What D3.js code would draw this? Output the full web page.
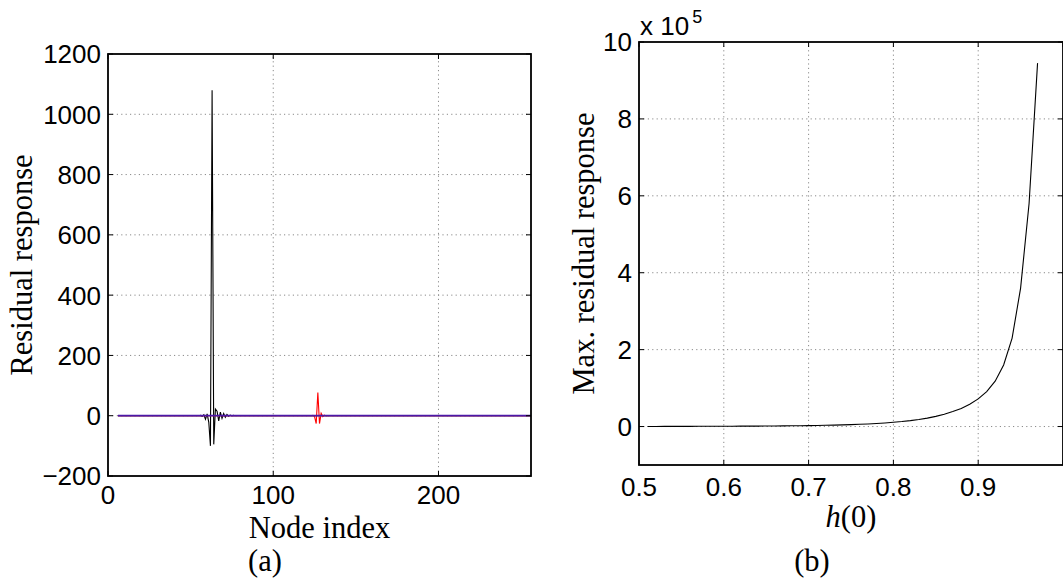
<!DOCTYPE html>
<html>
<head>
<meta charset="utf-8">
<script src="https://cdn.jsdelivr.net/npm/d3@7/dist/d3.min.js"></script>
<style>
  html, body { margin: 0; padding: 0; background: #fff; }
  svg { display: block; }
</style>
</head>
<body>
<svg id="chart" width="1063" height="583"></svg>
<script>
// ---------------- Data (a) ----------------
const nodeStart = 6;
const nodeEnd = 256;
// black series: nonzero samples (node index, value)
const blackNodes  = [56, 57, 58, 59, 60, 61, 62, 63, 64, 65, 66, 67, 68, 69, 70, 71, 72, 73, 74, 75, 76];
const blackValues = [1, -2, 3, -12, 6, -22, -100, 1080, -95, 22, 15, -17, 12, -9, 7, -5, 4, -2, 2, -1, 1];
// red series: nonzero samples
const redNodes  = [124, 125, 126, 127, 128, 129, 130, 131, 132];
const redValues = [1, -3, -26, 77, -26, 8, -3, 2, -1];
// purple series: flat at zero across all nodes
const purpleNodes = [];
const purpleValues = [];

const xTicksA = [0, 100, 200];
const yTicksA = [-200, 0, 200, 400, 600, 800, 1000, 1200];
const yTickLabelsA = ["\u2212200", "0", "200", "400", "600", "800", "1000", "1200"];

// ---------------- Data (b) ----------------
const hValues = [0.51, 0.52, 0.53, 0.54, 0.55, 0.56, 0.57, 0.58, 0.59, 0.60,
                 0.61, 0.62, 0.63, 0.64, 0.65, 0.66, 0.67, 0.68, 0.69, 0.70,
                 0.71, 0.72, 0.73, 0.74, 0.75, 0.76, 0.77, 0.78, 0.79, 0.80,
                 0.81, 0.82, 0.83, 0.84, 0.85, 0.86, 0.87, 0.88, 0.89, 0.90,
                 0.91, 0.92, 0.93, 0.94, 0.95, 0.96, 0.97];
// max residual response in units of 1e5
const maxResidual = [0.003, 0.003, 0.004, 0.004, 0.005, 0.005, 0.006, 0.006, 0.007, 0.008,
                     0.009, 0.010, 0.011, 0.012, 0.013, 0.015, 0.017, 0.019, 0.022, 0.025,
                     0.029, 0.033, 0.038, 0.044, 0.050, 0.058, 0.067, 0.078, 0.092, 0.110,
                     0.130, 0.155, 0.185, 0.220, 0.265, 0.320, 0.390, 0.470, 0.580, 0.720,
                     0.910, 1.180, 1.600, 2.300, 3.600, 5.800, 9.450];
const xTicksB = [0.5, 0.6, 0.7, 0.8, 0.9, 1.0];
const xTickLabelsB = ["0.5", "0.6", "0.7", "0.8", "0.9", ""];
const yTicksB = [0, 2, 4, 6, 8, 10];
const yTickLabelsB = ["0", "2", "4", "6", "8", "10"];

// ---------------- Build series ----------------
function buildSeries(nodes, values) {
  const m = new Map(nodes.map((n, i) => [n, values[i]]));
  const out = [];
  for (let n = nodeStart; n <= nodeEnd; n++) out.push({x: n, y: m.has(n) ? m.get(n) : 0});
  return out;
}
const blackSeries = buildSeries(blackNodes, blackValues);
const redSeries = buildSeries(redNodes, redValues);
const purpleSeries = buildSeries(purpleNodes, purpleValues);
const seriesB = hValues.map((h, i) => ({x: h, y: maxResidual[i]}));

// ---------------- Drawing ----------------
const svg = d3.select("#chart");
svg.append("rect").attr("width", 1063).attr("height", 583).attr("fill", "#fff");

const SANS = "'Liberation Sans', Arial, Helvetica, sans-serif";
const SERIF = "'Liberation Serif', 'Times New Roman', serif";
const TICKFS = 26;
const LABELFS = 30.5;

function drawGrid(g, xs, ys, xt, yt) {
  const [x0, x1] = xs.range();
  const [y0, y1] = ys.range();
  const grid = g.append("g").attr("stroke", "#8a8a8a").attr("stroke-width", 1)
    .attr("stroke-dasharray", "1.2,3.2");
  xt.forEach(t => {
    const px = xs(t);
    if (Math.abs(px - x0) > 1 && Math.abs(px - x1) > 1)
      grid.append("line").attr("x1", px).attr("x2", px).attr("y1", y0).attr("y2", y1);
  });
  yt.forEach(t => {
    const py = ys(t);
    if (Math.abs(py - y0) > 1 && Math.abs(py - y1) > 1)
      grid.append("line").attr("x1", x0).attr("x2", x1).attr("y1", py).attr("y2", py);
  });
}

function drawFrame(g, xs, ys, xt, yt) {
  const [x0, x1] = xs.range();
  const [y0, y1] = ys.range();
  const tk = g.append("g").attr("stroke", "#000").attr("stroke-width", 1);
  const L = 5;
  xt.forEach(t => {
    const px = xs(t);
    tk.append("line").attr("x1", px).attr("x2", px).attr("y1", y0).attr("y2", y0 - L);
    tk.append("line").attr("x1", px).attr("x2", px).attr("y1", y1).attr("y2", y1 + L);
  });
  yt.forEach(t => {
    const py = ys(t);
    tk.append("line").attr("x1", x0).attr("x2", x0 + L).attr("y1", py).attr("y2", py);
    tk.append("line").attr("x1", x1).attr("x2", x1 - L).attr("y1", py).attr("y2", py);
  });
  g.append("rect").attr("x", x0).attr("y", y1).attr("width", x1 - x0).attr("height", y0 - y1)
    .attr("fill", "none").attr("stroke", "#000").attr("stroke-width", 1.8);
}

function tickLabels(g, xs, ys, xt, xtl, yt, ytl, xOff) {
  const [x0] = xs.range();
  const [y0] = ys.range();
  g.append("g").selectAll("text").data(xt).join("text")
    .attr("x", d => xs(d)).attr("y", y0 + xOff)
    .attr("text-anchor", "middle")
    .attr("font-family", SANS).attr("font-size", TICKFS).attr("fill", "#000")
    .text((d, i) => xtl[i]);
  g.append("g").selectAll("text").data(yt).join("text")
    .attr("x", x0 - 7).attr("y", d => ys(d))
    .attr("dy", "0.36em")
    .attr("text-anchor", "end")
    .attr("font-family", SANS).attr("font-size", TICKFS).attr("fill", "#000")
    .text((d, i) => ytl[i]);
}

// ----- Panel (a) -----
const xA = d3.scaleLinear().domain([0, 256]).range([108, 531]);
const yA = d3.scaleLinear().domain([-200, 1200]).range([476, 54]);
const gA = svg.append("g");
drawGrid(gA, xA, yA, xTicksA, yTicksA);
const lineA = d3.line().x(d => xA(d.x)).y(d => yA(d.y));
gA.append("path").datum(blackSeries).attr("d", lineA)
  .attr("fill", "none").attr("stroke", "#000").attr("stroke-width", 1.1);
gA.append("path").datum(redSeries).attr("d", lineA)
  .attr("fill", "none").attr("stroke", "#ff0000").attr("stroke-width", 1.1);
gA.append("path").datum(purpleSeries).attr("d", lineA)
  .attr("fill", "none").attr("stroke", "#4c18a8").attr("stroke-width", 1.8);
drawFrame(gA, xA, yA, xTicksA, yTicksA);
tickLabels(gA, xA, yA, xTicksA, xTicksA.map(String), yTicksA, yTickLabelsA, 28);

gA.append("text").attr("x", (108 + 531) / 2).attr("y", 538)
  .attr("text-anchor", "middle").attr("font-family", SERIF).attr("font-size", LABELFS)
  .text("Node index");
gA.append("text").attr("transform", "translate(32," + ((54 + 476) / 2) + ") rotate(-90)")
  .attr("text-anchor", "middle").attr("font-family", SERIF).attr("font-size", LABELFS)
  .text("Residual response");
gA.append("text").attr("x", 265).attr("y", 571)
  .attr("text-anchor", "middle").attr("font-family", SERIF).attr("font-size", LABELFS)
  .text("(a)");

// ----- Panel (b) -----
const xB = d3.scaleLinear().domain([0.5, 1.0]).range([639, 1063]);
const yB = d3.scaleLinear().domain([-1, 10]).range([465, 42]);
const gB = svg.append("g");
drawGrid(gB, xB, yB, xTicksB, yTicksB);
const lineB = d3.line().x(d => xB(d.x)).y(d => yB(d.y));
gB.append("path").datum(seriesB).attr("d", lineB)
  .attr("fill", "none").attr("stroke", "#000").attr("stroke-width", 1.1);
drawFrame(gB, xB, yB, xTicksB, yTicksB);
tickLabels(gB, xB, yB, xTicksB, xTickLabelsB, yTicksB, yTickLabelsB, 31);

// exponent label "x 10^5"
const expo = gB.append("text").attr("x", 640).attr("y", 35)
  .attr("font-family", SANS).attr("font-size", TICKFS).attr("fill", "#000");
expo.append("tspan").text("x 10");
expo.append("tspan").attr("font-size", 18).attr("dy", -12).attr("dx", 3).text("5");

const hl = gB.append("text").attr("x", (639 + 1063) / 2).attr("y", 527)
  .attr("text-anchor", "middle").attr("font-family", SERIF).attr("font-size", LABELFS);
hl.append("tspan").attr("font-style", "italic").text("h");
hl.append("tspan").text("(0)");
gB.append("text").attr("transform", "translate(594," + ((42 + 465) / 2) + ") rotate(-90)")
  .attr("text-anchor", "middle").attr("font-family", SERIF).attr("font-size", LABELFS)
  .text("Max.  residual response");
gB.append("text").attr("x", 812).attr("y", 571)
  .attr("text-anchor", "middle").attr("font-family", SERIF).attr("font-size", LABELFS)
  .text("(b)");
</script>
</body>
</html>
